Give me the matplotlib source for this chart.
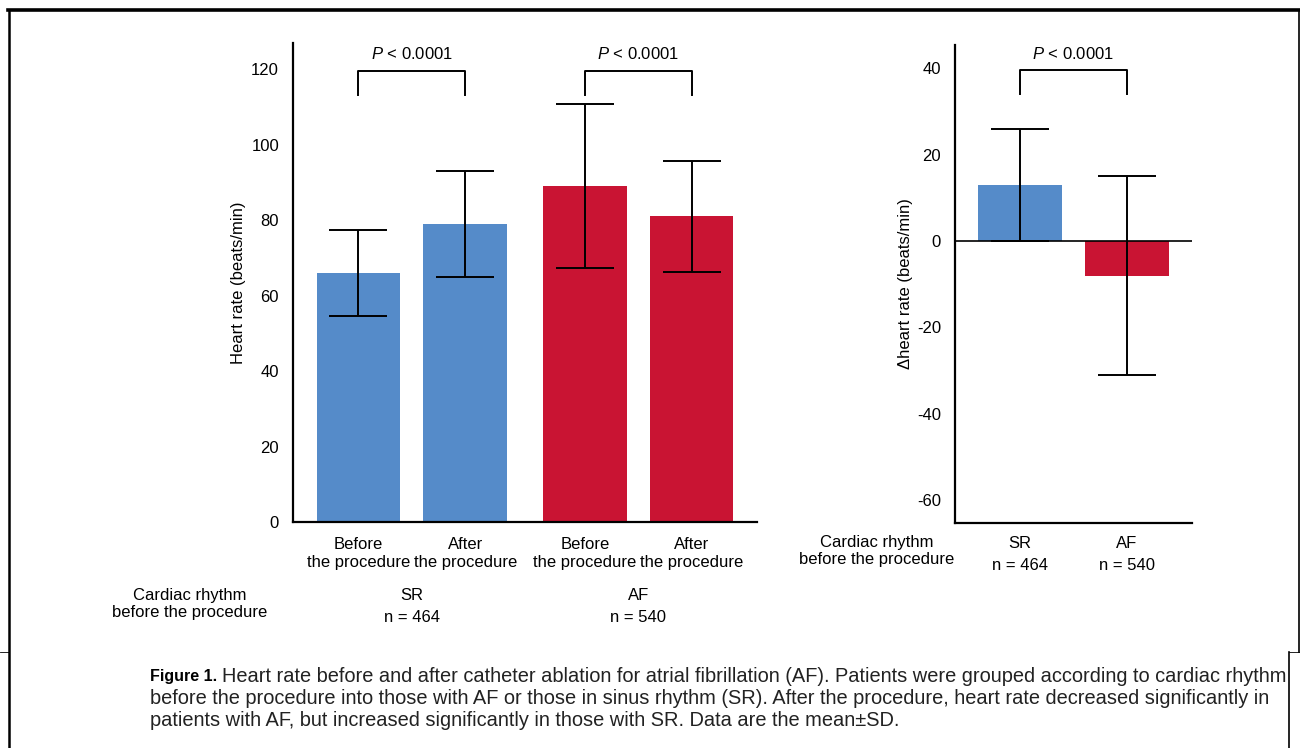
import matplotlib
matplotlib.use("Agg")
import matplotlib.pyplot as plt
from matplotlib.lines import Line2D
import matplotlib.transforms as mtransforms

plt.rcParams['font.family'] = ['Liberation Sans', 'DejaVu Sans']
plt.rcParams['mathtext.fontset'] = 'custom'
plt.rcParams['mathtext.it'] = 'Liberation Sans:italic'
plt.rcParams['mathtext.rm'] = 'Liberation Sans'
plt.rcParams['axes.unicode_minus'] = False

# ---------------- data ----------------
phase_labels = ["Before\nthe procedure", "After\nthe procedure",
                "Before\nthe procedure", "After\nthe procedure"]
phase_rhythm = ["SR", "SR", "AF", "AF"]
hr_mean = [66.0, 79.0, 89.0, 81.0]
hr_sd = [11.3, 14.0, 21.7, 14.7]

rhythms = ["SR", "AF"]
n_patients = [464, 540]
delta_mean = [13.0, -8.0]
delta_sd = [13.0, 23.0]

p_label = r"$\it{P}$ < 0.0001"
left_ticks = [0, 20, 40, 60, 80, 100, 120]
right_ticks = [-60, -40, -20, 0, 20, 40]

colors = {"SR": "#558BC9", "AF": "#C91433"}
FS = 12

W, H = 1300, 748
fig = plt.figure(figsize=(W / 100, H / 100), dpi=100)


def px_axes(x0, y_top, x1, y_bot):
    return fig.add_axes([x0 / W, (H - y_bot) / H, (x1 - x0) / W, (y_bot - y_top) / H])


def style(ax):
    for s in ("top", "right"):
        ax.spines[s].set_visible(False)
    for s in ("left", "bottom"):
        ax.spines[s].set_linewidth(1.6)
        ax.spines[s].set_color("black")
    ax.tick_params(axis="both", length=0, labelsize=FS)
    ax.tick_params(axis="y", pad=10)
    ax.tick_params(axis="x", pad=11)


err_kw = dict(ecolor="black", elinewidth=1.4, capsize=21, capthick=1.4)

# ---------------- left panel ----------------
axL = px_axes(293, 43, 757, 522)
posL = [0, 1, 2.12, 3.12]
axL.bar(posL, hr_mean, width=0.78, color=[colors[r] for r in phase_rhythm],
        yerr=hr_sd, error_kw=err_kw, zorder=2)
axL.set_xlim(-0.61, 3.73)
axL.set_ylim(0, 127)
axL.set_yticks(left_ticks)
axL.set_xticks(posL)
axL.set_xticklabels(phase_labels, fontsize=FS, linespacing=1.2)
axL.set_ylabel("Heart rate (beats/min)", fontsize=FS, labelpad=4)
style(axL)


def bracket(ax, x0, x1, y_low, y_high, y_text):
    ax.plot([x0, x0, x1, x1], [y_low, y_high, y_high, y_low], color="black",
            lw=1.4, clip_on=False, zorder=3)
    ax.text((x0 + x1) / 2, y_text, p_label, ha="center", va="center", fontsize=FS)


bracket(axL, posL[0], posL[1], 113.3, 119.6, 124.0)
bracket(axL, posL[2], posL[3], 113.3, 119.6, 124.0)

# group labels under left panel
transL = mtransforms.blended_transform_factory(axL.transData, fig.transFigure)
for i, r in enumerate(rhythms):
    xc = (posL[2 * i] + posL[2 * i + 1]) / 2
    axL.text(xc, (H - 595) / H, r, transform=transL, ha="center", va="center", fontsize=FS)
    axL.text(xc, (H - 618) / H, f"n = {n_patients[i]}", transform=transL,
             ha="center", va="center", fontsize=FS)
fig.text(190 / W, (H - 604) / H, "Cardiac rhythm\nbefore the procedure",
         ha="center", va="center", fontsize=FS, linespacing=1.2)

# ---------------- right panel ----------------
axR = px_axes(955, 45, 1192, 523)
posR = [0, 1]
axR.bar(posR, delta_mean, width=0.78, color=[colors[r] for r in rhythms],
        yerr=delta_sd, error_kw=err_kw, zorder=2)
axR.axhline(0, color="black", lw=1.2, zorder=3)
axR.set_xlim(-0.61, 1.61)
axR.set_ylim(-65.3, 45.4)
axR.set_yticks(right_ticks)
axR.set_xticks(posR)
axR.set_xticklabels(rhythms, fontsize=FS)
axR.set_ylabel("Δheart rate (beats/min)", fontsize=FS, labelpad=3)
style(axR)
axR.tick_params(axis="x", pad=9)
bracket(axR, posR[0], posR[1], 34.0, 39.7, 43.3)

transR = mtransforms.blended_transform_factory(axR.transData, fig.transFigure)
for i, r in enumerate(rhythms):
    axR.text(posR[i], (H - 566) / H, f"n = {n_patients[i]}", transform=transR,
             ha="center", va="center", fontsize=FS)
fig.text(877 / W, (H - 551) / H, "Cardiac rhythm\nbefore the procedure",
         ha="center", va="center", fontsize=FS, linespacing=1.2)

# ---------------- frame ----------------
def fline(xs, ys, lw):
    fig.add_artist(Line2D([x / W for x in xs], [(H - y) / H for y in ys],
                          color="black", lw=lw, transform=fig.transFigure))


fline([8, 1300], [10, 10], 2.6)
fline([9, 9], [10, 748], 1.8)
fline([1299, 1299], [10, 652], 1.2)
fline([1289, 1289], [652, 748], 1.2)
fline([0, 9], [652, 652], 0.6)
fline([1289, 1300], [652, 652], 0.6)

# ---------------- caption ----------------
CFS = 14.4
fig.text(150 / W, (H - 677) / H, "Figure 1.", fontsize=11.5, fontweight="bold",
         ha="left", va="center")
fig.text(222 / W, (H - 677) / H,
         "Heart rate before and after catheter ablation for atrial fibrillation (AF). "
         "Patients were grouped according to cardiac rhythm",
         fontsize=CFS, ha="left", va="center", color="#222222")
fig.text(150 / W, (H - 699) / H,
         "before the procedure into those with AF or those in sinus rhythm (SR). "
         "After the procedure, heart rate decreased significantly in",
         fontsize=CFS, ha="left", va="center", color="#222222")
fig.text(150 / W, (H - 721) / H,
         "patients with AF, but increased significantly in those with SR. "
         "Data are the mean\u00b1SD.",
         fontsize=CFS, ha="left", va="center", color="#222222")

fig.savefig("out.png", dpi=100)
